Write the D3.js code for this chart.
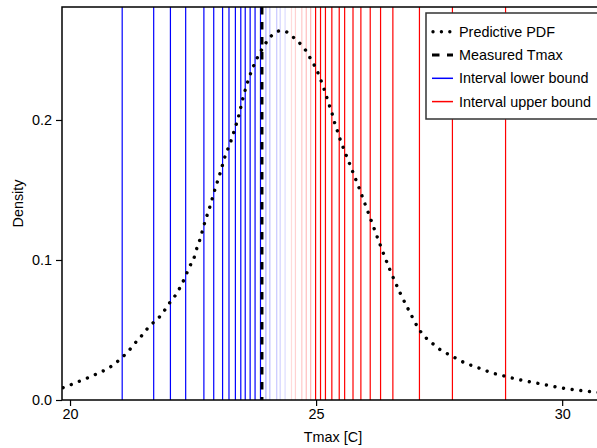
<!DOCTYPE html>
<html>
<head>
<meta charset="utf-8">
<script src="https://cdn.jsdelivr.net/npm/d3@7"></script>
<style>
  body { margin: 0; background: #fff; }
  svg { display: block; font-family: "Liberation Sans", Arial, Helvetica, sans-serif; }
</style>
</head>
<body>
<div id="graf"></div>
<script>
// -- Datos --
const pdf_x = [19.86, 20.04, 20.22, 20.40, 20.58, 20.75, 20.91, 21.05, 21.19, 21.31, 21.44, 21.56,
  21.69, 21.84, 21.95, 22.05, 22.17, 22.26, 22.35, 22.42, 22.51, 22.57, 22.63, 22.74, 22.85, 22.95,
  23.05, 23.15, 23.26, 23.32, 23.43, 23.52, 23.63, 23.77, 23.86, 23.96, 24.07, 24.22, 24.31, 24.40,
  24.55, 24.69, 24.81, 24.90, 25.00, 25.075, 25.14, 25.20, 25.26, 25.32, 25.37, 25.43, 25.49, 25.56,
  25.7, 25.9, 26.1, 26.3, 26.5, 26.7, 26.9, 27.11, 27.22, 27.38, 27.53, 27.70, 27.87, 28.04, 28.22,
  28.40, 28.58, 28.77, 28.95, 29.13, 29.51, 30.08, 30.47, 30.65, 30.85]
const pdf_y = [0.0088, 0.0112, 0.0138, 0.0164, 0.0193, 0.0221, 0.0259, 0.0302, 0.035, 0.0402, 0.0452, 0.0505,
  0.0552, 0.0602, 0.0655, 0.0707, 0.0762, 0.0821, 0.0886, 0.0948, 0.1005, 0.1076, 0.1136, 0.127, 0.139, 0.151,
  0.162, 0.174, 0.184, 0.1905, 0.2033, 0.2164, 0.2293, 0.2419, 0.248, 0.254, 0.2593, 0.2633, 0.2640, 0.2629,
  0.2587, 0.254, 0.2486, 0.2429, 0.2367, 0.2305, 0.2243, 0.218, 0.2114, 0.2052, 0.1988, 0.1924, 0.186, 0.1795,
  0.167, 0.149, 0.130, 0.111, 0.093, 0.077, 0.063, 0.0495, 0.0448, 0.040, 0.0357, 0.0325, 0.0293, 0.0262, 0.024,
  0.0216, 0.0193, 0.0176, 0.016, 0.0145, 0.0119, 0.0081, 0.0064, 0.0057, 0.0050]

// limites de los intervalos, del mas ancho al mas angosto
const lower_bounds = [21.06, 21.70, 22.04, 22.35, 22.72, 22.92, 23.10, 23.23, 23.36, 23.47,
  23.56, 23.66, 23.76, 23.87, 23.98, 24.06, 24.20, 24.27, 24.37]
const upper_bounds = [28.85, 27.77, 27.10, 26.56, 26.31, 26.10, 25.91, 25.75, 25.58, 25.47,
  25.32, 25.19, 25.09, 24.99, 24.89, 24.80, 24.71, 24.58, 24.50]
const measured_tmax = 23.90

const x_ticks = [20, 25, 30]
const y_ticks = [0.0, 0.1, 0.2]
const legend_labels = ['Predictive PDF', 'Measured Tmax', 'Interval lower bound', 'Interval upper bound']

// -- Canvas --
const ancho_total = 597, alto_total = 448
const margins = {top: 7, left: 62, right: -7, bottom: 48}
const fs = '14.4px'

const svg = d3.select('#graf').append('svg')
  .attr('width', ancho_total)
  .attr('height', alto_total)

const x = d3.scaleLinear().domain([19.837, 30.85]).range([margins.left, ancho_total - margins.right])
const y = d3.scaleLinear().domain([0, 0.2807]).range([alto_total - margins.bottom, margins.top])

svg.append('clipPath').attr('id', 'clip')
  .append('rect')
  .attr('x', x.range()[0]).attr('y', y.range()[1])
  .attr('width', x.range()[1] - x.range()[0])
  .attr('height', y.range()[0] - y.range()[1])

const plot = svg.append('g').attr('clip-path', 'url(#clip)')

// intervalos: los que no contienen el valor medido van atenuados
const intervals = lower_bounds.map((lo, i) => ({lo: lo, hi: upper_bounds[i], i: i}))
const faded = intervals.filter(d => d.lo > measured_tmax)
const alphaFaded = d3.scaleLinear().domain([faded[0].i, faded[faded.length - 1].i]).range([0.3, 0.14])
const alpha = d => d.lo > measured_tmax ? alphaFaded(d.i) : 1

plot.selectAll('line.lower')
  .data(intervals)
  .enter().append('line')
  .attr('class', 'lower')
  .attr('x1', d => x(d.lo)).attr('x2', d => x(d.lo))
  .attr('y1', y.range()[0]).attr('y2', y.range()[1])
  .attr('stroke', '#0000ff')
  .attr('stroke-opacity', alpha)
  .attr('stroke-width', 1.2)

plot.selectAll('line.upper')
  .data(intervals)
  .enter().append('line')
  .attr('class', 'upper')
  .attr('x1', d => x(d.hi)).attr('x2', d => x(d.hi))
  .attr('y1', y.range()[0]).attr('y2', y.range()[1])
  .attr('stroke', '#ff0000')
  .attr('stroke-opacity', alpha)
  .attr('stroke-width', 1.2)

plot.append('line')
  .attr('x1', x(measured_tmax)).attr('x2', x(measured_tmax))
  .attr('y1', y.range()[1]).attr('y2', y.range()[0])
  .attr('stroke', '#000')
  .attr('stroke-width', 3)
  .attr('stroke-dasharray', '7.5,7.5')

const line = d3.line()
  .x((d, i) => x(pdf_x[i]))
  .y(d => y(d))
  .curve(d3.curveMonotoneX)

plot.append('path')
  .datum(pdf_y)
  .attr('d', line)
  .attr('fill', 'none')
  .attr('stroke', '#000')
  .attr('stroke-width', 3.4)
  .attr('stroke-linecap', 'round')
  .attr('stroke-dasharray', '0.01,8.7')

// -- Marco y ejes --
svg.append('rect')
  .attr('x', x.range()[0]).attr('y', y.range()[1])
  .attr('width', x.range()[1] - x.range()[0])
  .attr('height', y.range()[0] - y.range()[1])
  .attr('fill', 'none')
  .attr('stroke', '#000')
  .attr('stroke-width', 1.5)

svg.append('g')
  .attr('transform', `translate(0, ${y.range()[0]})`)
  .call(d3.axisBottom(x).tickValues(x_ticks).tickFormat(d3.format('d')).tickSize(6).tickPadding(3))
svg.append('g')
  .attr('transform', `translate(${x.range()[0]}, 0)`)
  .call(d3.axisLeft(y).tickValues(y_ticks).tickFormat(d3.format('.1f')).tickSize(6).tickPadding(4))

svg.selectAll('.domain').remove()
svg.selectAll('.tick line').attr('stroke', '#000').attr('stroke-width', 1.2)
svg.selectAll('.tick text').attr('fill', '#000').style('font-size', fs)
  .style('font-family', '"Liberation Sans", Arial, sans-serif')

svg.append('text')
  .attr('x', 333).attr('y', 442)
  .attr('text-anchor', 'middle')
  .style('font-size', fs)
  .text('Tmax [C]')

svg.append('text')
  .attr('transform', `translate(23, ${(y.range()[0] + y.range()[1]) / 2}) rotate(-90)`)
  .attr('text-anchor', 'middle')
  .style('font-size', fs)
  .text('Density')

// -- Leyenda --
const leg = svg.append('g').attr('transform', 'translate(426, 13)')
leg.append('rect')
  .attr('width', 190).attr('height', 106)
  .attr('fill', '#fff')
  .attr('stroke', '#333')
  .attr('stroke-width', 1.5)

const legStyle = [
  {stroke: '#000', width: 3.4, dash: '0.01,8.4', cap: 'round'},
  {stroke: '#000', width: 3, dash: '7.5,7.5', cap: 'butt'},
  {stroke: '#0000ff', width: 1.5, dash: null, cap: 'butt'},
  {stroke: '#ff0000', width: 1.5, dash: null, cap: 'butt'}
]

const items = leg.selectAll('g.item')
  .data(legend_labels)
  .enter().append('g')
  .attr('transform', (d, i) => `translate(0, ${18.7 + i * 23.3})`)

items.append('line')
  .attr('x1', (d, i) => i == 0 ? 7 : 6).attr('x2', 27)
  .attr('stroke', (d, i) => legStyle[i].stroke)
  .attr('stroke-width', (d, i) => legStyle[i].width)
  .attr('stroke-dasharray', (d, i) => legStyle[i].dash)
  .attr('stroke-linecap', (d, i) => legStyle[i].cap)

items.append('text')
  .attr('x', 33).attr('dy', '0.35em')
  .style('font-size', fs)
  .text(d => d)
</script>
</body>
</html>
